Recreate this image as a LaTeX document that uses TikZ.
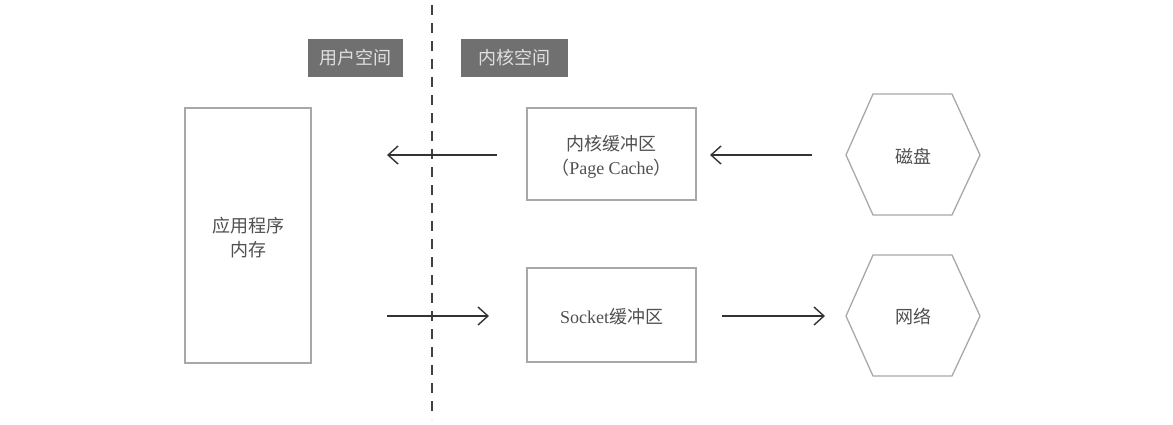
\documentclass[tikz,border=0pt]{standalone}
\usepackage{fontspec}
\setmainfont{Liberation Serif}
\newfontfamily\cjk{Noto Sans CJK SC}
\usetikzlibrary{arrows.meta}
\definecolor{boxline}{HTML}{A8A8A8}
\definecolor{txt}{HTML}{505050}
\definecolor{tagfill}{HTML}{707070}
\begin{document}
\begin{tikzpicture}[x=1pt,y=-1pt,
  box/.style={draw=boxline,line width=1.3pt,fill=white},
  lbl/.style={text=txt,font=\fontsize{18}{24}\selectfont,align=center,inner sep=0pt},
  tag/.style={fill=tagfill,text=white!88!black,font=\cjk\fontsize{18}{20}\selectfont,inner sep=0pt},
  arr/.style={draw=black!80,line width=1.4pt,-{Straight Barb[length=10pt,width=18pt,line width=1.4pt]}},
  hex/.style={draw=boxline,line width=1.3pt}]
\useasboundingbox (0,0) rectangle (1173,424);
% dashed separator
\coordinate (dtop) at (432,5);
\coordinate (dbot) at (432,419);
\draw[draw=black!75,line width=1.8pt,dash pattern=on 10pt off 8pt] (dtop) -- (dbot);
% tags
\node[tag,minimum width=95pt,minimum height=38pt] (user) at (355.5,58) {用户空间};
\node[tag,minimum width=107pt,minimum height=38pt] (kern) at (514.5,58) {内核空间};
% left memory box
\node[box,minimum width=126pt,minimum height=255pt] (mem) at (248,235.5) {};
\node[lbl] (memt) at (248,238) {\cjk 应用程序\\\cjk 内存};
% kernel buffer
\node[box,minimum width=169pt,minimum height=92pt] (kbuf) at (611.5,154) {};
\node[lbl] (kbuft) at (611.5,157) {\cjk 内核缓冲区\\{\cjk （}Page Cache{\cjk ）}};
% socket buffer
\node[box,minimum width=169pt,minimum height=94pt] (sbuf) at (611.5,315) {};
\node[lbl] (sbuft) at (611.5,317) {Socket{\cjk 缓冲区}};
% hexagons
\draw[hex] (846,155) -- (873,94) -- (952,94) -- (980,155) -- (952,215) -- (873,215) -- cycle;
\node[lbl] (disk) at (913,156) {\cjk 磁盘};
\draw[hex] (846,316) -- (873,255) -- (952,255) -- (980,316) -- (952,376) -- (873,376) -- cycle;
\node[lbl] (net) at (913,317) {\cjk 网络};
% arrow endpoints
\coordinate (a1s) at (497,155); \coordinate (a1e) at (387,155);
\coordinate (a2s) at (812,155); \coordinate (a2e) at (710,155);
\coordinate (a3s) at (387,316); \coordinate (a3e) at (489,316);
\coordinate (a4s) at (722,316); \coordinate (a4e) at (825,316);
\draw[arr] (a1s) -- (a1e);
\draw[arr] (a2s) -- (a2e);
\draw[arr] (a3s) -- (a3e);
\draw[arr] (a4s) -- (a4e);
\end{tikzpicture}
\end{document}
